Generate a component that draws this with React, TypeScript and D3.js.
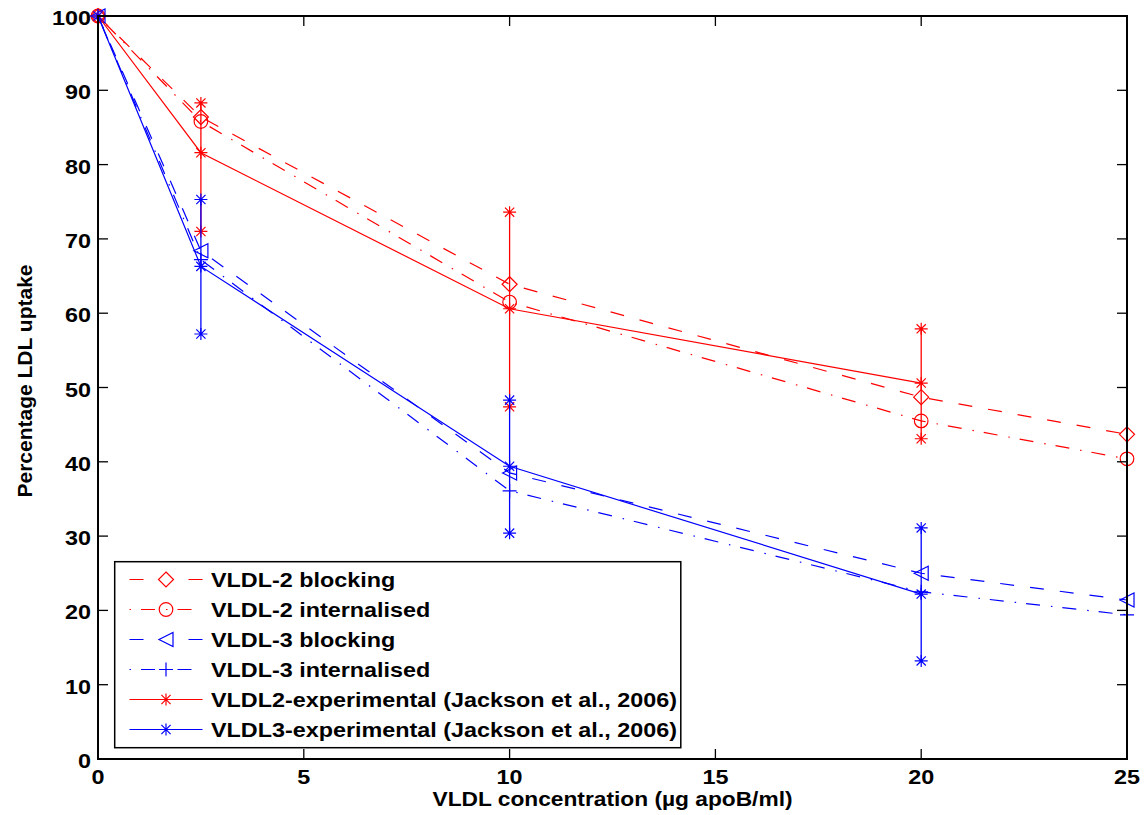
import React from 'react';
import * as d3 from 'd3';

// ---- data ----
const xModel = [0, 2.5, 10, 20, 25];
const vldl2Blocking = [100, 86.4, 63.9, 48.7, 43.7];
const vldl2Internalised = [100, 85.8, 61.5, 45.5, 40.4];
const vldl3Blocking = [100, 68.4, 38.5, 25.0, 21.4];
const vldl3Internalised = [100, 67.2, 36.1, 22.5, 19.4];

const xExp = [0, 2.5, 10, 20];
const vldl2Exp = [100, 81.6, 60.6, 50.6];
const vldl2ExpLow = [100, 71.0, 47.4, 43.1];
const vldl2ExpHigh = [100, 88.3, 73.6, 57.9];
const vldl3Exp = [100, 66.3, 39.4, 22.2];
const vldl3ExpLow = [100, 57.2, 30.4, 13.2];
const vldl3ExpHigh = [100, 75.3, 48.3, 31.1];

const xTicks = [0, 5, 10, 15, 20, 25];
const yTicks = [0, 10, 20, 30, 40, 50, 60, 70, 80, 90, 100];

const legendLabels = [
  'VLDL-2 blocking',
  'VLDL-2 internalised',
  'VLDL-3 blocking',
  'VLDL-3 internalised',
  'VLDL2-experimental (Jackson et al., 2006)',
  'VLDL3-experimental (Jackson et al., 2006)',
];

const xTitle = 'VLDL concentration (\u00b5g apoB/ml)';
const yTitle = 'Percentage LDL uptake';

// ---- styles ----
const RED = '#ff0000';
const BLUE = '#0000ff';
const DASH = '14,16';
const DASHDOT = '1.5,10,14,11';
const FONT = "'Liberation Sans', Arial, Helvetica, sans-serif";
const SX = 1.14;

type MarkerType = 'diamond' | 'circle' | 'triangle' | 'plus' | 'asterisk';

function Marker({ type, cx, cy, color }: { type: MarkerType; cx: number; cy: number; color: string }) {
  const common = { fill: 'none', stroke: color, strokeWidth: 1.2 };
  if (type === 'diamond') {
    const s = 7.5;
    return <path d={`M${cx},${cy - s}L${cx + s},${cy}L${cx},${cy + s}L${cx - s},${cy}Z`} {...common} />;
  }
  if (type === 'circle') {
    return <circle cx={cx} cy={cy} r={6.8} {...common} />;
  }
  if (type === 'triangle') {
    const s = 7;
    return <path d={`M${cx - s},${cy}L${cx + s},${cy - s}L${cx + s},${cy + s}Z`} {...common} />;
  }
  if (type === 'plus') {
    const s = 7;
    return <path d={`M${cx - s},${cy}H${cx + s}M${cx},${cy - s}V${cy + s}`} {...common} />;
  }
  const h = 6.5, v = 6, dd = 4.6;
  return (
    <path
      d={`M${cx - h},${cy}H${cx + h}M${cx},${cy - v}V${cy + v}M${cx - dd},${cy - dd}L${cx + dd},${cy + dd}M${cx - dd},${cy + dd}L${cx + dd},${cy - dd}`}
      {...common}
    />
  );
}

function Txt({ x, y, anchor = 'start', children, size = 20.5, sx = SX }: any) {
  return (
    <text
      transform={`translate(${x},${y}) scale(${sx},1)`}
      textAnchor={anchor}
      fontSize={size}
      fontWeight="bold"
      fontFamily={FONT}
      fill="#000"
    >
      {children}
    </text>
  );
}

export default function App() {
  const W = 1144, H = 815;
  const L = 98, R = 1127, T = 16, B = 759;
  const x = d3.scaleLinear().domain([0, 25]).range([L, R]);
  const y = d3.scaleLinear().domain([0, 100]).range([B, T]);

  const line = (xs: number[], ys: number[]) =>
    d3.line<number>().x((_, i) => x(xs[i])).y((d) => y(d))(ys) || '';

  const models = [
    { xs: xModel, ys: vldl2Blocking, color: RED, dash: DASH, marker: 'diamond' as MarkerType },
    { xs: xModel, ys: vldl2Internalised, color: RED, dash: DASHDOT, marker: 'circle' as MarkerType },
    { xs: xModel, ys: vldl3Blocking, color: BLUE, dash: DASH, marker: 'triangle' as MarkerType },
    { xs: xModel, ys: vldl3Internalised, color: BLUE, dash: DASHDOT, marker: 'plus' as MarkerType },
  ];
  const exps = [
    { xs: xExp, ys: vldl2Exp, lo: vldl2ExpLow, hi: vldl2ExpHigh, color: RED },
    { xs: xExp, ys: vldl3Exp, lo: vldl3ExpLow, hi: vldl3ExpHigh, color: BLUE },
  ];

  const tick = 10;

  // legend
  const lgX0 = 114.7, lgX1 = 680.8, lgY0 = 561.7, lgY1 = 747.7;
  const rowY0 = 579.5, rowStep = 30;
  const sampleX0 = 129.5, sampleX1 = 202.5, sampleMid = 166;
  const legendItems = [
    { color: RED, dash: '14,45,14', marker: 'diamond' as MarkerType },
    { color: RED, dash: '1.5,10,14,11', marker: 'circle' as MarkerType },
    { color: BLUE, dash: '14,45,14', marker: 'triangle' as MarkerType },
    { color: BLUE, dash: '1.5,10,14,11', marker: 'plus' as MarkerType },
    { color: RED, dash: undefined, marker: 'asterisk' as MarkerType },
    { color: BLUE, dash: undefined, marker: 'asterisk' as MarkerType },
  ];

  return (
    <svg
      width={W}
      height={H}
      viewBox={`0 0 ${W} ${H}`}
      style={{ position: 'absolute', left: 0, top: 0, background: '#fff' }}
    >
      <rect x={0} y={0} width={W} height={H} fill="#fff" />

      {/* model lines */}
      {models.map((m, i) => (
        <g key={'m' + i}>
          <path d={line(m.xs, m.ys)} fill="none" stroke={m.color} strokeWidth={1.2} strokeDasharray={m.dash} />
          {m.ys.map((v, j) => (
            <Marker key={j} type={m.marker} cx={x(m.xs[j])} cy={y(v)} color={m.color} />
          ))}
        </g>
      ))}

      {/* experimental with error bars */}
      {exps.map((e, i) => (
        <g key={'e' + i}>
          <path d={line(e.xs, e.ys)} fill="none" stroke={e.color} strokeWidth={1.2} />
          {e.xs.map((xv, j) => (
            <g key={j}>
              <line x1={x(xv)} x2={x(xv)} y1={y(e.lo[j])} y2={y(e.hi[j])} stroke={e.color} strokeWidth={1.3} />
              <Marker type="asterisk" cx={x(xv)} cy={y(e.ys[j])} color={e.color} />
              {e.lo[j] !== e.ys[j] && <Marker type="asterisk" cx={x(xv)} cy={y(e.lo[j])} color={e.color} />}
              {e.hi[j] !== e.ys[j] && <Marker type="asterisk" cx={x(xv)} cy={y(e.hi[j])} color={e.color} />}
            </g>
          ))}
        </g>
      ))}

      {/* axes box */}
      <rect x={L} y={T} width={R - L} height={B - T} fill="none" stroke="#000" strokeWidth={2} />
      {yTicks.map((t) => (
        <g key={'yt' + t}>
          <line x1={L} x2={L + tick} y1={y(t)} y2={y(t)} stroke="#000" strokeWidth={1.3} />
          <line x1={R} x2={R - tick} y1={y(t)} y2={y(t)} stroke="#000" strokeWidth={1.3} />
          <Txt x={91} y={y(t) + 9} anchor="end">{t}</Txt>
        </g>
      ))}
      {xTicks.map((t) => (
        <g key={'xt' + t}>
          <line x1={x(t)} x2={x(t)} y1={B} y2={B - tick} stroke="#000" strokeWidth={1.3} />
          <line x1={x(t)} x2={x(t)} y1={T} y2={T + tick} stroke="#000" strokeWidth={1.3} />
          <Txt x={x(t)} y={784} anchor="middle">{t}</Txt>
        </g>
      ))}

      {/* axis titles */}
      <Txt x={(L + R) / 2} y={806} anchor="middle" size={20.5} sx={1.11}>{xTitle}</Txt>
      <text
        transform={`translate(32,381) rotate(-90)`}
        textAnchor="middle"
        fontSize={21}
        fontWeight="bold"
        fontFamily={FONT}
        fill="#000"
      >
        {yTitle}
      </text>

      {/* legend */}
      <rect x={lgX0} y={lgY0} width={lgX1 - lgX0} height={lgY1 - lgY0} fill="#fff" stroke="#000" strokeWidth={1.5} />
      {legendItems.map((it, i) => {
        const ry = rowY0 + i * rowStep;
        return (
          <g key={'lg' + i}>
            <line x1={sampleX0} x2={sampleX1} y1={ry} y2={ry} stroke={it.color} strokeWidth={1.2} strokeDasharray={it.dash} />
            <Marker type={it.marker} cx={sampleMid} cy={ry} color={it.color} />
            <Txt x={211} y={ry + 7.5}>{legendLabels[i]}</Txt>
          </g>
        );
      })}
    </svg>
  );
}
